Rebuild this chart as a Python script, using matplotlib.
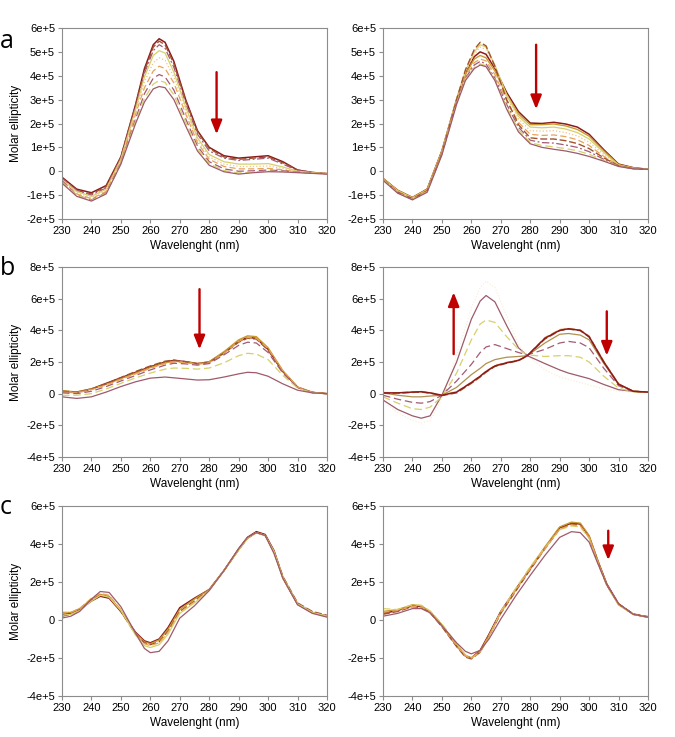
import matplotlib
matplotlib.use("Agg")
import matplotlib.pyplot as plt

plt.rcParams['font.family'] = ['Liberation Sans', 'DejaVu Sans']

SCALE = 1e5  # all curve values below are in units of 1e+5

# ---- panel a, left ----
wl_a1 = [230, 235, 240, 245, 250, 255, 258, 261, 263, 265, 268, 272, 276, 280, 285, 290, 295, 300, 305, 310, 315, 320]
a1_curves = [
    [-0.25, -0.75, -0.9, -0.6, 0.6, 2.8, 4.3, 5.3, 5.55, 5.4, 4.6, 3.0, 1.7, 1.0, 0.65, 0.55, 0.6, 0.65, 0.4, 0.05, -0.05, -0.1],
    [-0.3, -0.8, -0.95, -0.65, 0.6, 2.75, 4.2, 5.2, 5.45, 5.3, 4.5, 2.95, 1.65, 0.95, 0.6, 0.5, 0.55, 0.6, 0.35, 0.05, -0.05, -0.1],
    [-0.3, -0.8, -1.0, -0.7, 0.55, 2.7, 4.1, 5.05, 5.3, 5.15, 4.35, 2.85, 1.55, 0.85, 0.55, 0.45, 0.5, 0.55, 0.3, 0.03, -0.05, -0.1],
    [-0.35, -0.85, -1.05, -0.75, 0.5, 2.6, 3.95, 4.85, 5.05, 4.95, 4.15, 2.7, 1.4, 0.7, 0.4, 0.3, 0.3, 0.32, 0.18, 0.0, -0.06, -0.1],
    [-0.35, -0.9, -1.1, -0.8, 0.45, 2.5, 3.75, 4.55, 4.75, 4.65, 3.95, 2.55, 1.3, 0.6, 0.3, 0.2, 0.2, 0.22, 0.12, -0.02, -0.06, -0.1],
    [-0.4, -0.95, -1.15, -0.85, 0.4, 2.4, 3.5, 4.2, 4.4, 4.3, 3.7, 2.4, 1.2, 0.5, 0.2, 0.1, 0.1, 0.12, 0.06, -0.03, -0.07, -0.1],
    [-0.4, -1.0, -1.2, -0.9, 0.35, 2.2, 3.25, 3.9, 4.05, 3.95, 3.4, 2.2, 1.05, 0.4, 0.1, 0.0, 0.02, 0.05, 0.02, -0.04, -0.08, -0.1],
    [-0.45, -1.0, -1.22, -0.92, 0.32, 2.1, 3.05, 3.65, 3.8, 3.72, 3.2, 2.05, 0.95, 0.32, 0.03, -0.07, -0.03, 0.0, -0.01, -0.05, -0.08, -0.11],
    [-0.5, -1.05, -1.25, -0.95, 0.3, 2.0, 2.9, 3.45, 3.55, 3.5, 3.0, 1.9, 0.85, 0.25, -0.02, -0.12, -0.06, -0.02, -0.03, -0.06, -0.09, -0.12],
]
a1_styles = ['dk', 'si', 'mdd', 'ye', 'dot', 'od', 'md', 'yd', 'ms']

# ---- panel a, right ----
wl_a2 = [230, 235, 240, 245, 250, 255, 258, 261, 263, 265, 268, 272, 276, 280, 284, 288, 292, 296, 300, 305, 310, 315, 320]
a2_curves = [
    [-0.3, -0.8, -1.1, -0.75, 0.85, 3.0, 4.1, 4.8, 5.0, 4.9, 4.3, 3.3, 2.5, 2.02, 2.0, 2.05, 1.98, 1.85, 1.55, 0.9, 0.3, 0.15, 0.08],
    [-0.3, -0.8, -1.1, -0.75, 0.85, 3.0, 4.05, 4.7, 4.85, 4.75, 4.2, 3.2, 2.4, 1.95, 1.95, 1.98, 1.9, 1.75, 1.47, 0.85, 0.28, 0.14, 0.08],
    [-0.32, -0.82, -1.12, -0.78, 0.8, 3.05, 4.2, 5.0, 5.3, 5.2, 4.45, 3.2, 2.3, 1.85, 1.82, 1.85, 1.77, 1.62, 1.35, 0.78, 0.26, 0.13, 0.08],
    [-0.32, -0.85, -1.13, -0.8, 0.8, 3.0, 4.15, 4.9, 5.2, 5.1, 4.35, 3.1, 2.2, 1.7, 1.68, 1.7, 1.62, 1.48, 1.22, 0.7, 0.25, 0.12, 0.08],
    [-0.33, -0.85, -1.15, -0.8, 0.78, 2.95, 3.95, 4.55, 4.7, 4.62, 4.05, 2.95, 2.05, 1.55, 1.5, 1.52, 1.45, 1.32, 1.08, 0.62, 0.24, 0.12, 0.08],
    [-0.35, -0.88, -1.15, -0.82, 0.75, 3.0, 4.25, 5.1, 5.4, 5.25, 4.4, 3.0, 1.95, 1.4, 1.35, 1.35, 1.28, 1.16, 0.95, 0.56, 0.23, 0.11, 0.08],
    [-0.35, -0.9, -1.17, -0.84, 0.72, 2.9, 3.9, 4.45, 4.6, 4.5, 3.9, 2.8, 1.85, 1.3, 1.2, 1.18, 1.1, 1.0, 0.82, 0.5, 0.22, 0.11, 0.08],
    [-0.36, -0.9, -1.18, -0.85, 0.7, 2.85, 3.85, 4.35, 4.5, 4.42, 3.85, 2.7, 1.75, 1.2, 1.08, 1.02, 0.95, 0.86, 0.71, 0.45, 0.21, 0.1, 0.08],
    [-0.38, -0.92, -1.2, -0.88, 0.68, 2.8, 3.8, 4.3, 4.45, 4.38, 3.8, 2.6, 1.65, 1.15, 1.0, 0.92, 0.85, 0.75, 0.62, 0.42, 0.2, 0.1, 0.08],
]
a2_styles = ['dk', 'gd', 'ye', 'dot', 'od', 'si', 'mdd', 'yd', 'ms']

# ---- panel b, left ----
wl_b1 = [230, 235, 240, 245, 250, 255, 260, 265, 268, 272, 276, 280, 285, 290, 293, 296, 300, 305, 310, 315, 320]
b1_curves = [
    [0.15, 0.1, 0.3, 0.65, 1.0, 1.35, 1.7, 2.0, 2.1, 2.02, 1.9, 2.0, 2.6, 3.3, 3.55, 3.5, 2.8, 1.4, 0.4, 0.08, 0.0],
    [0.2, 0.1, 0.3, 0.6, 0.95, 1.3, 1.65, 1.95, 2.05, 2.0, 1.9, 2.02, 2.65, 3.4, 3.65, 3.6, 2.9, 1.45, 0.42, 0.08, 0.0],
    [0.15, 0.08, 0.28, 0.62, 1.02, 1.4, 1.75, 2.05, 2.12, 2.02, 1.88, 1.98, 2.55, 3.25, 3.5, 3.45, 2.75, 1.38, 0.4, 0.08, 0.0],
    [0.1, 0.05, 0.25, 0.55, 0.9, 1.25, 1.6, 1.9, 2.0, 1.95, 1.85, 1.95, 2.55, 3.3, 3.55, 3.5, 2.85, 1.45, 0.42, 0.08, 0.0],
    [0.05, 0.0, 0.15, 0.45, 0.8, 1.15, 1.5, 1.8, 1.92, 1.88, 1.8, 1.9, 2.45, 3.05, 3.25, 3.2, 2.6, 1.3, 0.38, 0.07, 0.0],
    [-0.1, -0.1, 0.0, 0.3, 0.65, 1.0, 1.3, 1.55, 1.62, 1.6, 1.55, 1.62, 1.95, 2.4, 2.55, 2.5, 2.15, 1.15, 0.35, 0.06, 0.0],
    [-0.2, -0.3, -0.2, 0.1, 0.45, 0.75, 0.98, 1.05, 1.0, 0.93, 0.86, 0.88, 1.05, 1.25, 1.35, 1.32, 1.1, 0.62, 0.22, 0.05, 0.0],
]
b1_styles = ['dk', 'gd', 'si', 'od', 'md', 'yd', 'ms']

# ---- panel b, right ----
wl_b2 = [230, 235, 240, 243, 246, 250, 255, 260, 263, 265, 268, 272, 276, 279, 285, 290, 293, 297, 300, 305, 310, 315, 320]
b2_curves = [
    [-0.5, -1.2, -1.7, -1.85, -1.7, -0.3, 2.4, 5.4, 6.7, 7.1, 6.7, 4.9, 3.1, 2.4, 1.5, 1.05, 0.9, 0.7, 0.55, 0.3, 0.15, 0.1, 0.1],
    [-0.4, -1.0, -1.4, -1.55, -1.4, -0.1, 2.0, 4.7, 5.85, 6.2, 5.8, 4.3, 2.9, 2.4, 1.9, 1.5, 1.3, 1.1, 0.95, 0.58, 0.25, 0.15, 0.1],
    [-0.2, -0.6, -0.95, -1.0, -0.85, -0.2, 1.3, 3.4, 4.4, 4.65, 4.5, 3.6, 2.8, 2.45, 2.35, 2.4, 2.4, 2.3, 2.0, 1.1, 0.35, 0.12, 0.1],
    [-0.1, -0.35, -0.55, -0.6, -0.5, -0.1, 0.8, 1.85, 2.6, 2.95, 3.1, 2.85, 2.6, 2.45, 2.8, 3.2, 3.3, 3.2, 2.9, 1.6, 0.5, 0.15, 0.1],
    [0.05, -0.1, -0.2, -0.2, -0.15, -0.1, 0.4, 1.2, 1.6, 1.9, 2.15, 2.3, 2.35, 2.4, 3.2, 3.75, 3.8, 3.7, 3.4, 1.9, 0.6, 0.15, 0.1],
    [0.02, 0.02, 0.08, 0.1, 0.03, -0.12, 0.05, 0.65, 1.05, 1.35, 1.72, 1.92, 2.08, 2.38, 3.45, 3.98, 4.08, 3.98, 3.58, 1.98, 0.6, 0.15, 0.1],
    [0.08, 0.05, 0.12, 0.14, 0.06, -0.08, 0.12, 0.72, 1.12, 1.42, 1.78, 1.98, 2.12, 2.42, 3.55, 4.05, 4.12, 4.02, 3.65, 2.05, 0.62, 0.16, 0.1],
    [0.05, 0.05, 0.1, 0.12, 0.05, -0.1, 0.1, 0.7, 1.1, 1.4, 1.75, 1.95, 2.1, 2.4, 3.5, 4.0, 4.1, 4.0, 3.6, 2.0, 0.6, 0.15, 0.1],
]
b2_styles = ['fd', 'ms', 'yd', 'md', 'ol', 'si', 'od', 'dk']

# ---- panel c, left ----
wl_c1 = [230, 233, 236, 240, 243, 246, 250, 255, 258, 260, 263, 266, 270, 275, 280, 285, 290, 293, 296, 299, 302, 305, 310, 315, 320]
c1_curves = [
    [0.3, 0.35, 0.55, 1.0, 1.25, 1.15, 0.45, -0.65, -1.1, -1.2, -1.0, -0.4, 0.65, 1.15, 1.6, 2.6, 3.75, 4.35, 4.65, 4.5, 3.65, 2.25, 0.85, 0.4, 0.2],
    [0.4, 0.4, 0.6, 1.1, 1.35, 1.25, 0.5, -0.7, -1.15, -1.25, -1.05, -0.5, 0.55, 1.1, 1.6, 2.6, 3.7, 4.3, 4.6, 4.45, 3.6, 2.2, 0.82, 0.38, 0.2],
    [0.2, 0.3, 0.5, 1.05, 1.3, 1.2, 0.45, -0.75, -1.2, -1.3, -1.15, -0.6, 0.45, 1.0, 1.6, 2.6, 3.7, 4.3, 4.6, 4.45, 3.6, 2.3, 0.9, 0.45, 0.25],
    [0.35, 0.4, 0.6, 1.15, 1.4, 1.3, 0.55, -0.75, -1.25, -1.35, -1.2, -0.65, 0.4, 0.95, 1.58, 2.6, 3.7, 4.3, 4.6, 4.45, 3.55, 2.2, 0.85, 0.4, 0.2],
    [0.25, 0.3, 0.5, 1.0, 1.3, 1.2, 0.5, -0.8, -1.35, -1.45, -1.3, -0.75, 0.35, 0.9, 1.55, 2.6, 3.7, 4.3, 4.6, 4.45, 3.6, 2.25, 0.85, 0.4, 0.2],
    [0.1, 0.2, 0.45, 1.1, 1.5, 1.45, 0.7, -0.7, -1.5, -1.72, -1.65, -1.1, 0.1, 0.75, 1.55, 2.6, 3.75, 4.35, 4.6, 4.45, 3.5, 2.2, 0.8, 0.35, 0.15],
]
c1_styles = ['dk', 'gd', 'si', 'od', 'ye', 'ms']

# ---- panel c, right ----
wl_c2 = [230, 235, 240, 243, 246, 250, 255, 258, 260, 263, 266, 270, 275, 280, 285, 290, 294, 297, 300, 303, 306, 310, 315, 320]
c2_curves = [
    [0.35, 0.5, 0.75, 0.7, 0.4, -0.3, -1.35, -1.9, -2.0, -1.6, -0.75, 0.45, 1.6, 2.7, 3.8, 4.85, 5.1, 5.05, 4.4, 3.1, 1.9, 0.85, 0.3, 0.15],
    [0.45, 0.55, 0.8, 0.75, 0.45, -0.25, -1.3, -1.85, -2.0, -1.65, -0.8, 0.4, 1.55, 2.75, 3.85, 4.9, 5.15, 5.1, 4.45, 3.1, 1.85, 0.8, 0.3, 0.15],
    [0.3, 0.45, 0.7, 0.65, 0.38, -0.35, -1.4, -1.95, -2.05, -1.7, -0.85, 0.35, 1.5, 2.65, 3.75, 4.8, 5.05, 5.0, 4.35, 3.05, 1.85, 0.85, 0.32, 0.18],
    [0.6, 0.55, 0.8, 0.78, 0.48, -0.2, -1.25, -1.85, -2.0, -1.7, -0.9, 0.45, 1.65, 2.8, 3.8, 4.75, 4.95, 4.9, 4.3, 3.0, 1.8, 0.8, 0.3, 0.15],
    [0.4, 0.5, 0.72, 0.68, 0.42, -0.3, -1.35, -1.9, -2.02, -1.68, -0.85, 0.38, 1.55, 2.7, 3.75, 4.78, 5.0, 4.95, 4.35, 3.05, 1.85, 0.82, 0.3, 0.15],
    [0.2, 0.35, 0.6, 0.6, 0.38, -0.3, -1.2, -1.65, -1.78, -1.6, -1.0, 0.05, 1.25, 2.35, 3.4, 4.35, 4.65, 4.6, 4.1, 2.95, 1.85, 0.85, 0.3, 0.15],
]
c2_styles = ['dk', 'gd', 'si', 'yd', 'od', 'ms']

xticks = [230, 240, 250, 260, 270, 280, 290, 300, 310, 320]
yticks_a = [-2, -1, 0, 1, 2, 3, 4, 5, 6]
ylabels_a = ['-2e+5', '-1e+5', '0', '1e+5', '2e+5', '3e+5', '4e+5', '5e+5', '6e+5']
yticks_b = [-4, -2, 0, 2, 4, 6, 8]
ylabels_b = ['-4e+5', '-2e+5', '0', '2e+5', '4e+5', '6e+5', '8e+5']
yticks_c = [-4, -2, 0, 2, 4, 6]
ylabels_c = ['-4e+5', '-2e+5', '0', '2e+5', '4e+5', '6e+5']

STYLES = {
    'dk': ('#8B1A1A', '-', 1.1),
    'gd': ('#C99A2E', '-', 1.0),
    'si': ('#A0522D', (0, (5, 2)), 1.0),
    'mdd': ('#A35A74', (0, (6, 2, 1.5, 2)), 0.9),
    'ye': ('#D6D06A', '-', 0.9),
    'dot': ('#F0C48A', ':', 0.9),
    'od': ('#E8A35A', (0, (5, 2.5)), 0.9),
    'md': ('#A35A74', (0, (6, 3)), 0.9),
    'yd': ('#D6D06A', (0, (6, 3)), 0.9),
    'ms': ('#9E5A6A', '-', 0.9),
    'ol': ('#B09050', '-', 0.9),
    'fd': ('#F7ECCF', ':', 0.8),
}

GRAY = '#8C8C8C'
ARROW = '#C00000'

fig = plt.figure(figsize=(6.75, 7.37), dpi=100)


def panel(rect, wl, curves, styles, yticks, ylabels, ylabel):
    ax = fig.add_axes(rect)
    for vals, key in zip(curves, styles):
        color, ls, lw = STYLES[key]
        ax.plot(wl, [v * SCALE for v in vals], color=color, linestyle=ls, lw=lw)
    ax.set_xlim(230, 320)
    ax.set_ylim(yticks[0] * SCALE, yticks[-1] * SCALE)
    ax.set_xticks(xticks)
    ax.set_xticklabels([str(t) for t in xticks])
    ax.set_yticks([t * SCALE for t in yticks])
    ax.set_yticklabels(ylabels)
    for s in ax.spines.values():
        s.set_color(GRAY)
        s.set_linewidth(0.8)
    ax.tick_params(direction='out', length=3, width=0.8, color=GRAY, labelsize=8, pad=2)
    ax.set_xlabel('Wavelenght (nm)', fontsize=8.5, labelpad=3)
    if ylabel:
        ax.set_ylabel('Molar ellipticity', fontsize=8.5)
        ax.yaxis.set_label_coords(-0.15, 0.5)
    return ax


def arrow(ax, x, y0, y1):
    ax.annotate('', xy=(x, y1 * SCALE), xytext=(x, y0 * SCALE),
                arrowprops=dict(arrowstyle='-|>,head_length=0.75,head_width=0.3',
                                mutation_scale=11, color=ARROW, lw=1.7,
                                shrinkA=0, shrinkB=0))


W = 737.0
L1, L2 = 62 / 675, 383 / 675
WD = 265 / 675
rows = [(1 - 219 / W, 191 / W), (1 - 457 / W, 190 / W), (1 - 696 / W, 190 / W)]

ax = panel([L1, rows[0][0], WD, rows[0][1]], wl_a1, a1_curves, a1_styles, yticks_a, ylabels_a, True)
arrow(ax, 282.5, 4.15, 1.55)
ax = panel([L2, rows[0][0], WD, rows[0][1]], wl_a2, a2_curves, a2_styles, yticks_a, ylabels_a, False)
arrow(ax, 282, 5.3, 2.6)
ax = panel([L1, rows[1][0], WD, rows[1][1]], wl_b1, b1_curves, b1_styles, yticks_b, ylabels_b, True)
arrow(ax, 276.7, 6.6, 2.8)
ax = panel([L2, rows[1][0], WD, rows[1][1]], wl_b2, b2_curves, b2_styles, yticks_b, ylabels_b, False)
arrow(ax, 254, 2.5, 6.4)
arrow(ax, 306, 5.2, 2.4)
ax = panel([L1, rows[2][0], WD, rows[2][1]], wl_c1, c1_curves, c1_styles, yticks_c, ylabels_c, True)
ax = panel([L2, rows[2][0], WD, rows[2][1]], wl_c2, c2_curves, c2_styles, yticks_c, ylabels_c, False)
arrow(ax, 306.5, 4.7, 3.15)

for letter, base in [('a', 48), ('b', 275), ('c', 514)]:
    fig.text(0.0, 1 - base / W, letter, fontsize=18, family=['Open Sans', 'DejaVu Sans'],
             ha='left', va='baseline')

fig.savefig('out.png', dpi=100)
